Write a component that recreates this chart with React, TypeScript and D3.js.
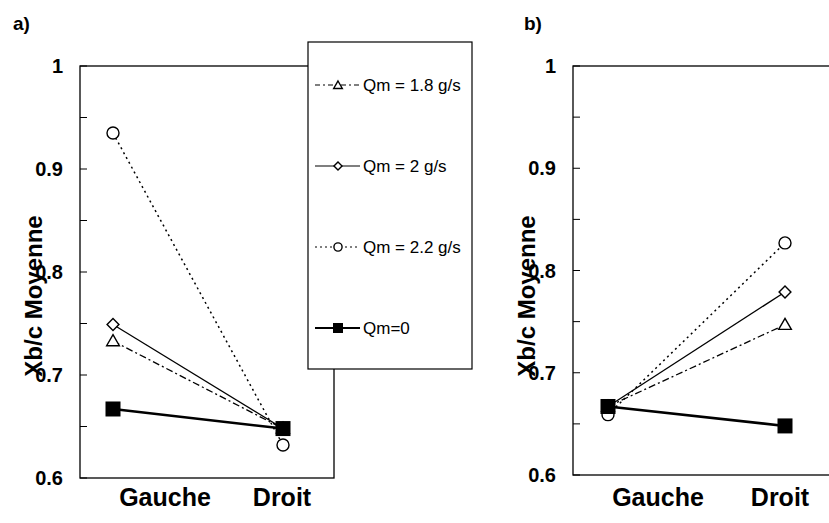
import React from 'react';
import * as d3 from 'd3';

const categories = ['Gauche', 'Droit'];
const seriesNames = ['Qm = 1.8 g/s', 'Qm = 2 g/s', 'Qm = 2.2 g/s', 'Qm=0'];

// panel a)
const a18 = [0.733, 0.648];
const a20 = [0.749, 0.648];
const a22 = [0.935, 0.632];
const a00 = [0.667, 0.648];

// panel b)
const b18 = [0.667, 0.747];
const b20 = [0.667, 0.779];
const b22 = [0.659, 0.827];
const b00 = [0.667, 0.648];

const yTicks = [0.6, 0.7, 0.8, 0.9, 1];
const yMinor = [0.65, 0.75, 0.85, 0.95];

const FONT = "'Liberation Sans', Arial, Helvetica, sans-serif";

type Style = { dash?: string; width: number; marker: 'tri' | 'dia' | 'circ' | 'sq' };
const styles: Style[] = [
  { dash: '7,3,2,3', width: 1.3, marker: 'tri' },
  { width: 1.3, marker: 'dia' },
  { dash: '2,3.5', width: 1.5, marker: 'circ' },
  { width: 2.6, marker: 'sq' }
];

function Marker({ kind, x, y, big }: { kind: Style['marker']; x: number; y: number; big: boolean }) {
  const k = big ? 1 : 0.68;
  if (kind === 'tri') {
    const p = d3.symbol(d3.symbolTriangle, 70 * k * k)();
    return <path d={p || ''} transform={`translate(${x},${y + 1})`} fill="#fff" stroke="#000" strokeWidth={1.4} />;
  }
  if (kind === 'dia') {
    const p = d3.symbol(d3.symbolSquare, 70 * k * k)();
    return <path d={p || ''} transform={`translate(${x},${y}) rotate(45)`} fill="#fff" stroke="#000" strokeWidth={1.4} />;
  }
  if (kind === 'circ') {
    return <circle cx={x} cy={y} r={6 * k} fill="#fff" stroke="#000" strokeWidth={1.4} />;
  }
  const s = (big ? 15 : 10);
  return <rect x={x - s / 2} y={y - s / 2} width={s} height={s} fill="#000" />;
}

function Panel({ label, left, right, top, bottom, xs, data, labelShift, titleX, panelX }: any) {
  const y = d3.scaleLinear().domain([0.6, 1]).range([bottom, top]);
  const x = d3.scaleLinear().domain([0, 1]).range(xs);
  const line = d3.line<number>().x((_, i) => x(i)).y(d => y(d));
  return (
    <g>
      <text x={panelX} y={30} fontFamily={FONT} fontWeight="bold" fontSize={19}>{label}</text>
      <rect x={left} y={top} width={right - left} height={bottom - top} fill="none" stroke="#000" strokeWidth={1.3} />
      {yTicks.map(t => (
        <g key={t}>
          <line x1={left} x2={left + 7} y1={y(t)} y2={y(t)} stroke="#000" strokeWidth={1} />
          <text x={left - 17} y={y(t) + 7} textAnchor="end" fontFamily={FONT} fontWeight="bold" fontSize={20}>{t === 1 ? '1' : t.toFixed(1)}</text>
        </g>
      ))}
      {yMinor.map(t => (
        <line key={t} x1={left} x2={left + 7} y1={y(t)} y2={y(t)} stroke="#000" strokeWidth={1} />
      ))}
      <text transform={`translate(${titleX},296) rotate(-90)`} textAnchor="middle" fontFamily={FONT} fontWeight="bold" fontSize={24}>Xb/c Moyenne</text>
      {categories.map((c, i) => (
        <text key={c} x={x(i) + labelShift[i]} y={506} textAnchor="middle" fontFamily={FONT} fontWeight="bold" fontSize={25}>{c}</text>
      ))}
      {data.map((vals: number[], si: number) => (
        <path key={si} d={line(vals) || ''} fill="none" stroke="#000" strokeWidth={styles[si].width} strokeDasharray={styles[si].dash} />
      ))}
      {data.map((vals: number[], si: number) => vals.map((v, i) => (
        <Marker key={`${si}-${i}`} kind={styles[si].marker} x={x(i)} y={y(v)} big={true} />
      )))}
    </g>
  );
}

function Legend() {
  const left = 308, top = 42, w = 164, h = 327;
  const rows = d3.scalePoint<string>().domain(seriesNames).range([85, 328]);
  return (
    <g>
      <rect x={left} y={top} width={w} height={h} fill="#fff" stroke="#000" strokeWidth={1.2} />
      {seriesNames.map((n, i) => {
        const cy = rows(n) || 0;
        return (
          <g key={n}>
            <line x1={315} x2={360} y1={cy} y2={cy} stroke="#000" strokeWidth={styles[i].width === 2.6 ? 1.8 : 1.2}
              strokeDasharray={i === 0 ? '5,3,2,3' : i === 2 ? '2,3' : undefined} />
            <Marker kind={styles[i].marker} x={338} y={cy} big={false} />
            <text x={363} y={cy + 6} fontFamily={FONT} fontSize={17}>{n}</text>
          </g>
        );
      })}
    </g>
  );
}

export default function App() {
  return (
    <svg width={829} height={523} style={{ position: 'absolute', left: 0, top: 0, background: '#fff' }}>
      <rect width={829} height={523} fill="#fff" />
      <Panel label="a)" left={80} right={334} top={66} bottom={478} xs={[113, 283]}
        data={[a18, a20, a22, a00]} labelShift={[52, -1]} titleX={42} panelX={13} />
      <Legend />
      <Panel label="b)" left={573} right={840} top={66} bottom={475} xs={[608, 785]}
        data={[b18, b20, b22, b00]} labelShift={[50, -5]} titleX={535} panelX={524} />
    </svg>
  );
}
